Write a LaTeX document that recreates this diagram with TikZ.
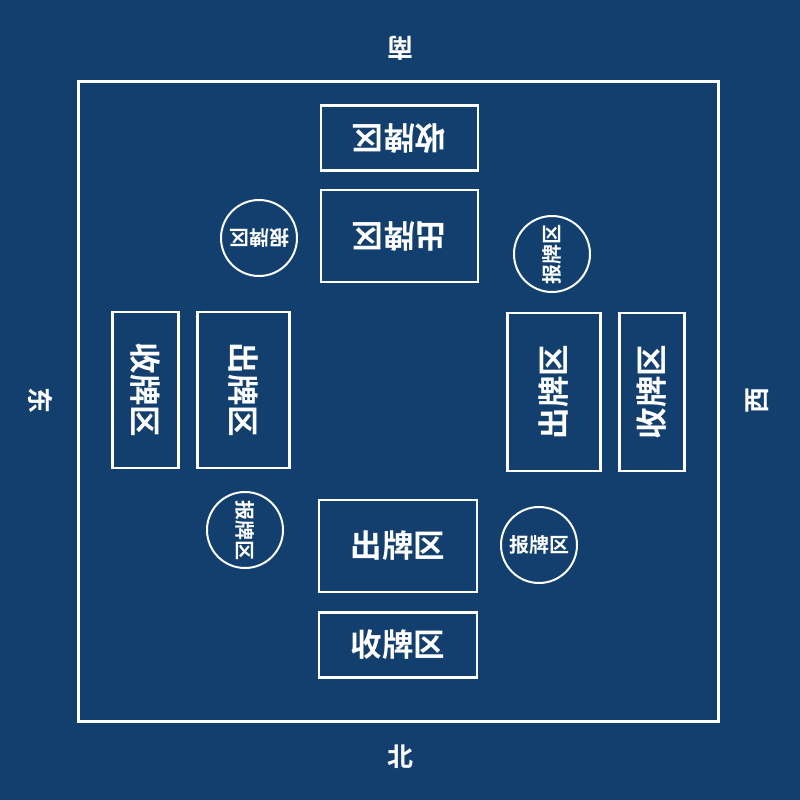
\documentclass[tikz,border=0pt]{standalone}
\usepackage{fontspec}
\newfontfamily\cjk{Noto Sans CJK SC Bold}
\definecolor{bg}{RGB}{18,63,110}
\tikzset{
  area/.style={draw=white, line width=2.6pt, text=white, font=\cjk\fontsize{31.5}{32}\selectfont, inner sep=0pt},
  badge/.style={draw=white, line width=2pt, circle, minimum size=76pt, inner sep=0pt, text=white, font=\cjk\fontsize{20}{21}\selectfont},
  dirlabel/.style={text=white, font=\cjk\fontsize{26}{27}\selectfont, inner sep=0pt}
}
\begin{document}
\begin{tikzpicture}[x=1pt,y=-1pt]
\fill[bg] (0,0) rectangle (800,800);
\useasboundingbox (0,0) rectangle (800,800);
\draw[white, line width=3pt] (78,81) rectangle (718,721);
% direction labels
\node[dirlabel, rotate=180] (nan) at (400,48) {南};
\node[dirlabel] (bei) at (400,757) {北};
\node[dirlabel, rotate=-90] (dong) at (41,400) {东};
\node[dirlabel, rotate=90] (xi) at (757,400) {西};
% top (south)
\node[area, rotate=180, minimum width=157pt, minimum height=65pt] (topcollect) at (399.5,138) {收牌区};
\node[area, rotate=180, minimum width=157pt, minimum height=92pt] (topplay) at (399.5,236) {出牌区};
% bottom (north)
\node[area, minimum width=158pt, minimum height=92pt] (botplay) at (398,546) {出牌区};
\node[area, minimum width=158pt, minimum height=65pt] (botcollect) at (398,645) {收牌区};
% left (east)
\node[area, rotate=-90, minimum width=156pt, minimum height=66pt] (leftcollect) at (145.5,390) {收牌区};
\node[area, rotate=-90, minimum width=156pt, minimum height=92pt] (leftplay) at (243.5,390) {出牌区};
% right (west)
\node[area, rotate=90, minimum width=158pt, minimum height=93pt] (rightplay) at (554,392) {出牌区};
\node[area, rotate=90, minimum width=158pt, minimum height=65pt] (rightcollect) at (652,392) {收牌区};
% badges
\node[badge, rotate=180] (tlbadge) at (259,238) {报牌区};
\node[badge, rotate=90] (trbadge) at (552,254) {报牌区};
\node[badge, rotate=-90] (blbadge) at (245,530) {报牌区};
\node[badge] (brbadge) at (539,545) {报牌区};
\end{tikzpicture}
\end{document}
